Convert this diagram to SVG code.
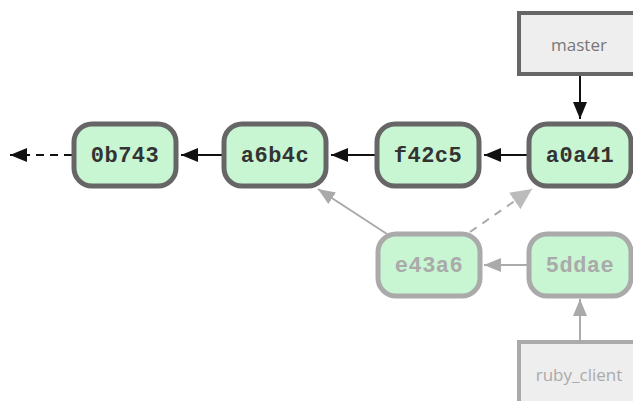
<svg xmlns="http://www.w3.org/2000/svg" width="633" height="401" viewBox="0 0 633 401">
<style>
.commit rect{fill:#c8f5d2;stroke:#666;stroke-width:5}
.commit text{font-family:"Liberation Mono",monospace;font-weight:bold;font-size:22px;fill:#333;text-anchor:middle;letter-spacing:0.5px}
.faded rect{stroke:#aaa}
.faded text{fill:#aaa}
.ref rect{fill:#eee;stroke:#666;stroke-width:4}
.ref text{font-family:"Open Sans","DejaVu Sans",sans-serif;font-size:17px;fill:#777;text-anchor:middle}
.ref.faded rect{stroke:#aaa}
.ref.faded text{fill:#aaa}
.a{stroke:#111;stroke-width:2;fill:none}
.g{stroke:#aaa;stroke-width:2;fill:none}
</style>
<defs>
<marker id="hb" markerUnits="userSpaceOnUse" markerWidth="18" markerHeight="14" refX="17" refY="7" orient="auto"><path d="M0,0 L17,7 L0,14 z" fill="#111"/></marker>
<marker id="hg" markerUnits="userSpaceOnUse" markerWidth="18" markerHeight="14" refX="17" refY="7" orient="auto"><path d="M0,0 L17,7 L0,14 z" fill="#aaa"/></marker>
<marker id="hgl" markerUnits="userSpaceOnUse" markerWidth="22" markerHeight="20" refX="21" refY="10" orient="auto"><path d="M0,0 L21,10 L0,20 z" fill="#bbb"/></marker>
</defs>
<g id="connectors">
<line class="a" x1="72" y1="155" x2="10" y2="155" stroke-dasharray="8,6" stroke-width="3" marker-end="url(#hb)"/>
<line class="a" x1="222" y1="155" x2="181" y2="155" marker-end="url(#hb)"/>
<line class="a" x1="375" y1="155" x2="331" y2="155" marker-end="url(#hb)"/>
<line class="a" x1="527" y1="155" x2="484" y2="155" marker-end="url(#hb)"/>
<line class="a" x1="580" y1="76" x2="580" y2="119" marker-end="url(#hb)"/>
<line class="g" x1="387" y1="234" x2="318" y2="189" marker-end="url(#hg)"/>
<line class="g" x1="470" y1="232" x2="532" y2="189" stroke="#bbb" stroke-width="4" stroke-dasharray="8,7" marker-end="url(#hgl)"/>
<line class="g" x1="527" y1="265" x2="484" y2="265" marker-end="url(#hg)"/>
<line class="g" x1="580" y1="341" x2="580" y2="299" marker-end="url(#hg)"/>
</g>
<g id="n0b743" class="commit"><rect x="74" y="124" width="102" height="62" rx="18"/><text x="125" y="162">0b743</text></g>
<g id="na6b4c" class="commit"><rect x="224" y="124" width="102" height="62" rx="18"/><text x="275" y="162">a6b4c</text></g>
<g id="nf42c5" class="commit"><rect x="377" y="124" width="102" height="62" rx="18"/><text x="428" y="162">f42c5</text></g>
<g id="na0a41" class="commit"><rect x="529" y="124" width="102" height="62" rx="18"/><text x="580" y="162">a0a41</text></g>
<g id="ne43a6" class="commit faded"><rect x="378" y="234" width="102" height="62" rx="18"/><text x="429" y="272">e43a6</text></g>
<g id="n5ddae" class="commit faded"><rect x="529" y="234" width="102" height="62" rx="18"/><text x="580" y="272">5ddae</text></g>
<g id="master" class="ref"><rect x="519" y="13" width="124" height="61"/><text x="579" y="51">master</text></g>
<g id="ruby_client" class="ref faded"><rect x="519" y="342" width="124" height="80"/><text x="579" y="381">ruby_client</text></g>
</svg>
